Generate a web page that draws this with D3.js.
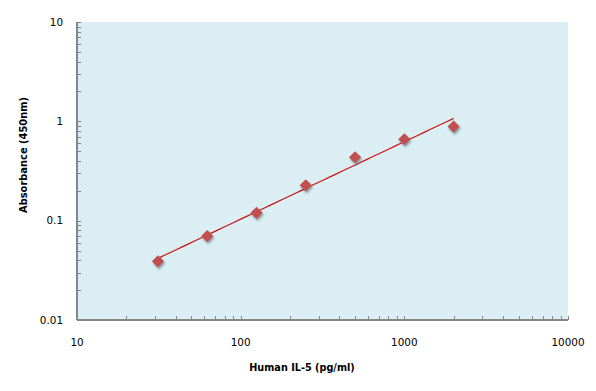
<!DOCTYPE html>
<html>
<head>
<meta charset="utf-8">
<script src="https://cdn.jsdelivr.net/npm/d3@7"></script>
<style>
  html, body { margin: 0; padding: 0; background: #ffffff; }
  svg { display: block; }
</style>
</head>
<body>
<svg id="chart" width="596" height="391"></svg>
<script>
// ---- data ----
const concentrations = [31.25, 62.5, 125, 250, 500, 1000, 2000];
const absorbance = [0.039, 0.070, 0.120, 0.227, 0.435, 0.660, 0.885];
const xTickLabels = ["10", "100", "1000", "10000"];
const yTickLabels = ["0.01", "0.1", "1", "10"];
const xTitle = "Human IL-5 (pg/ml)";
const yTitle = "Absorbance (450nm)";

// ---- layout ----
const W = 596, H = 391;
const plot = { left: 77, right: 568, top: 22, bottom: 320 };

const svg = d3.select("#chart");

const x = d3.scaleLog().domain([10, 10000]).range([plot.left, plot.right]);
const y = d3.scaleLog().domain([0.01, 10]).range([plot.bottom, plot.top]);

const axisColor = "#868686";
const font = "'DejaVu Sans', Verdana, sans-serif";

// defs: shadow
const defs = svg.append("defs");
const f = defs.append("filter").attr("id", "shadow")
  .attr("x", "-50%").attr("y", "-50%").attr("width", "200%").attr("height", "200%");
f.append("feGaussianBlur").attr("in", "SourceAlpha").attr("stdDeviation", 1.3).attr("result", "b");
f.append("feOffset").attr("in", "b").attr("dx", 1.2).attr("dy", 2).attr("result", "o");
f.append("feFlood").attr("flood-color", "#3a5a6a").attr("flood-opacity", 0.55).attr("result", "c");
f.append("feComposite").attr("in", "c").attr("in2", "o").attr("operator", "in").attr("result", "s");
const m = f.append("feMerge");
m.append("feMergeNode").attr("in", "s");
m.append("feMergeNode").attr("in", "SourceGraphic");

// plot background
svg.append("rect")
  .attr("x", plot.left).attr("y", plot.top)
  .attr("width", plot.right - plot.left).attr("height", plot.bottom - plot.top)
  .attr("fill", "#DAEEF3");

// ticks
const xTicks = x.ticks();
const yTicks = y.ticks();
const isMajor = v => Math.abs(Math.log10(v) - Math.round(Math.log10(v))) < 1e-9;

const xAxis = d3.axisBottom(x).tickValues(xTicks).tickSize(0).tickFormat("");
const gx = svg.append("g").attr("transform", `translate(0,${plot.bottom})`).call(xAxis);
gx.select(".domain").remove();
gx.selectAll(".tick line").remove();
gx.selectAll(".tick").append("line")
  .attr("y1", 0).attr("y2", d => -4)
  .attr("stroke", axisColor).attr("stroke-width", 1).attr("shape-rendering", "crispEdges");

const yAxis = d3.axisLeft(y).tickValues(yTicks).tickSize(0).tickFormat("");
const gy = svg.append("g").attr("transform", `translate(${plot.left},0)`).call(yAxis);
gy.select(".domain").remove();
gy.selectAll(".tick line").remove();
gy.selectAll(".tick").append("line")
  .attr("x1", 0).attr("x2", 4)
  .attr("stroke", axisColor).attr("stroke-width", 1).attr("shape-rendering", "crispEdges");

// axis lines
svg.append("line").attr("x1", plot.left).attr("x2", plot.right)
  .attr("y1", plot.bottom).attr("y2", plot.bottom)
  .attr("stroke", axisColor).attr("stroke-width", 1.5).attr("shape-rendering", "crispEdges");
svg.append("line").attr("x1", plot.left).attr("x2", plot.left)
  .attr("y1", plot.top).attr("y2", plot.bottom)
  .attr("stroke", axisColor).attr("stroke-width", 1.5).attr("shape-rendering", "crispEdges");

// tick labels
const xMajor = xTickLabels.map(Number);
svg.append("g").selectAll("text").data(xMajor).join("text")
  .attr("x", d => x(d)).attr("y", 346)
  .attr("text-anchor", "middle")
  .attr("font-family", font).attr("font-size", "10.4px").attr("fill", "#000")
  .text((d, i) => xTickLabels[i]);

const yMajor = yTickLabels.map(Number);
svg.append("g").selectAll("text").data(yMajor).join("text")
  .attr("x", 63).attr("y", d => y(d) + 3.8)
  .attr("text-anchor", "end")
  .attr("font-family", font).attr("font-size", "10.4px").attr("fill", "#000")
  .text((d, i) => yTickLabels[i]);

// titles
svg.append("text")
  .attr("x", 302).attr("y", 371)
  .attr("text-anchor", "middle")
  .attr("font-family", font).attr("font-weight", "bold").attr("font-size", "9.7px")
  .text(xTitle);
svg.append("text")
  .attr("transform", `translate(27,155) rotate(-90)`)
  .attr("text-anchor", "middle")
  .attr("font-family", font).attr("font-weight", "bold").attr("font-size", "9.9px")
  .text(yTitle);

// power trendline (least squares in log-log space)
const lx = concentrations.map(Math.log10);
const ly = absorbance.map(Math.log10);
const mx = d3.mean(lx), my = d3.mean(ly);
const slope = d3.sum(lx, (v, i) => (v - mx) * (ly[i] - my)) / d3.sum(lx, v => (v - mx) ** 2);
const intercept = my - slope * mx;
const xmin = d3.min(concentrations), xmax = d3.max(concentrations);
const fitPts = d3.range(0, 51).map(i => {
  const lv = Math.log10(xmin) + (Math.log10(xmax) - Math.log10(xmin)) * i / 50;
  return [10 ** lv, 10 ** (intercept + slope * lv)];
});
svg.append("path")
  .datum(fitPts)
  .attr("fill", "none").attr("stroke", "#CC1010").attr("stroke-width", 1.2)
  .attr("d", d3.line().x(d => x(d[0])).y(d => y(d[1])));

// markers
const diamond = d3.symbol().type(d3.symbolDiamond2).size(95);
svg.append("g").selectAll("path").data(concentrations).join("path")
  .attr("transform", (d, i) => `translate(${x(d)},${y(absorbance[i])})`)
  .attr("d", diamond)
  .attr("fill", "#C0504D")
  .attr("filter", "url(#shadow)");
</script>
</body>
</html>
